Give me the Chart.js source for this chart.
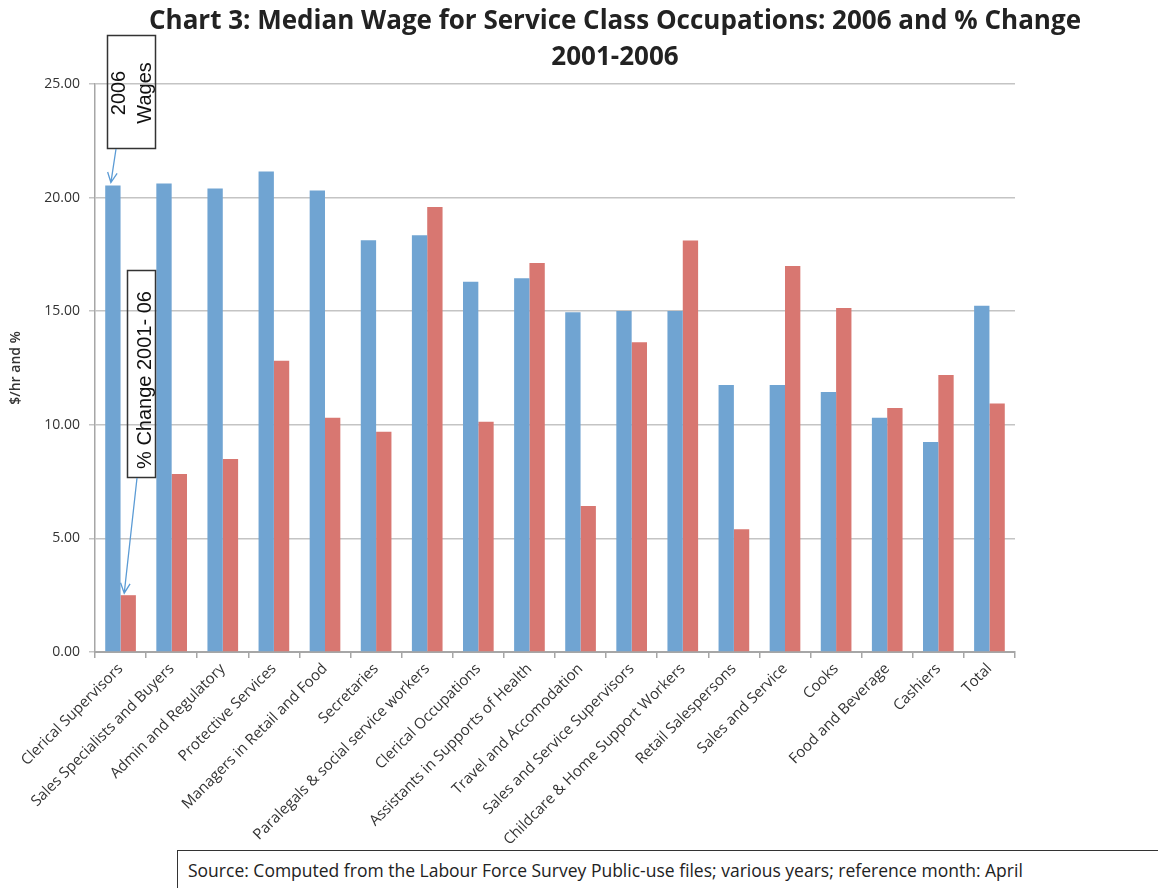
<!DOCTYPE html>
<html>
<head>
<meta charset="utf-8">
<script src="https://cdn.jsdelivr.net/npm/chart.js@4"></script>
<style>
  body { margin: 0; background: #fff; }
  #wrap { position: relative; width: 1158px; height: 888px; overflow: hidden; }
  #source {
    position: absolute; left: 177px; top: 850px; width: 1000px; height: 44px;
    border: 1.5px solid #333; background: #fff; box-sizing: border-box;
    font: 17.5px 'Open Sans', sans-serif; color: #222; padding: 7px 0 0 10px; white-space: nowrap;
  }
</style>
</head>
<body>
<div id="wrap">
  <canvas id="chart" width="1158" height="888"></canvas>
  <div id="source">Source: Computed from the Labour Force Survey Public-use files; various years; reference month: April</div>
</div>
<script>
const CATEGORIES = ['Clerical Supervisors', 'Sales Specialists and Buyers', 'Admin and Regulatory',
  'Protective Services', 'Managers in Retail and Food', 'Secretaries', 'Paralegals & social service workers',
  'Clerical Occupations', 'Assistants in Supports of Health', 'Travel and Accomodation',
  'Sales and Service Supervisors', 'Childcare & Home Support Workers', 'Retail Salespersons',
  'Sales and Service', 'Cooks', 'Food and Beverage', 'Cashiers', 'Total'];
const WAGES_2006 = [20.53, 20.62, 20.40, 21.15, 20.31, 18.12, 18.34, 16.30, 16.45, 14.95,
  15.01, 15.01, 11.75, 11.75, 11.44, 10.31, 9.24, 15.24];
const PCT_CHANGE = [2.50, 7.84, 8.49, 12.82, 10.31, 9.69, 19.59, 10.13, 17.12, 6.43,
  13.63, 18.11, 5.40, 16.99, 15.14, 10.74, 12.19, 10.94];
const Y_TICKS = [0, 5, 10, 15, 20, 25];

const BLUE = '#70a4d2';
const RED = '#d87771';
const CALLOUT_FONT = '20px "Liberation Sans", Arial, sans-serif';

const drawArrow = (ctx, x1, y1, x2, y2) => {
  const a = Math.atan2(y2 - y1, x2 - x1);
  ctx.beginPath();
  ctx.moveTo(x1, y1);
  ctx.lineTo(x2, y2);
  ctx.moveTo(x2 - 11 * Math.cos(a - 0.45), y2 - 11 * Math.sin(a - 0.45));
  ctx.lineTo(x2, y2);
  ctx.lineTo(x2 - 11 * Math.cos(a + 0.45), y2 - 11 * Math.sin(a + 0.45));
  ctx.stroke();
}

// box outline plus vertical text; (tx, ty) is the text centre
const calloutBox = (ctx, x, y, w, h, tx, ty, lines) => {
  ctx.strokeStyle = '#333';
  ctx.lineWidth = 1.5;
  ctx.strokeRect(x, y, w, h);
  ctx.save();
  ctx.translate(tx, ty);
  ctx.rotate(-Math.PI / 2);
  ctx.fillStyle = '#111';
  ctx.font = CALLOUT_FONT;
  ctx.textAlign = 'center';
  ctx.textBaseline = 'middle';
  lines.forEach((ln, i) => ctx.fillText(ln, 0, (i - (lines.length - 1) / 2) * 26));
  ctx.restore();
}

const extras = {
  id: 'extras',
  afterDraw(chart) {
    const ctx = chart.ctx;
    const ys = chart.scales.y;
    ctx.save();
    // title
    ctx.fillStyle = '#222';
    ctx.font = 'bold 26px "Open Sans", sans-serif';
    ctx.textAlign = 'center';
    ctx.textBaseline = 'middle';
    ctx.fillText('Chart 3: Median Wage for Service Class Occupations: 2006 and % Change', 615, 22);
    ctx.fillText('2001-2006', 615, 58);

    // callouts
    const blueBar = chart.getDatasetMeta(0).data[0];
    const redBar = chart.getDatasetMeta(1).data[0];
    calloutBox(ctx, 107.5, 35.5, 48, 113, 132, 93, ['2006', 'Wages']);
    ctx.strokeStyle = '#5b9bd5';
    ctx.lineWidth = 1.3;
    drawArrow(ctx, 116, 149, blueBar.x - 2, ys.getPixelForValue(WAGES_2006[0]) - 3);

    calloutBox(ctx, 127.5, 270.5, 28, 207, 145, 380, ['% Change 2001- 06']);
    ctx.strokeStyle = '#5b9bd5';
    ctx.lineWidth = 1.3;
    drawArrow(ctx, 137, 478, redBar.x - 4, ys.getPixelForValue(PCT_CHANGE[0]) - 2);
    ctx.restore();
  }
};

const config = {
  type: 'bar',
  data: {
    labels: CATEGORIES,
    datasets: [
      { label: '2006 Wages', data: WAGES_2006, backgroundColor: BLUE },
      { label: '% Change 2001-06', data: PCT_CHANGE, backgroundColor: RED }
    ]
  },
  options: {
    responsive: false,
    animation: false,
    layout: { padding: { left: 8, top: 84, right: 143, bottom: 0 } },
    datasets: { bar: { categoryPercentage: 0.6, barPercentage: 1.0 } },
    plugins: {
      legend: { display: false },
      tooltip: { enabled: false }
    },
    scales: {
      x: {
        afterFit: s => { s.height = 236; },
        grid: { display: true, drawOnChartArea: false, offset: true, tickLength: 6, color: '#a6a6a6', lineWidth: 1.5 },
        border: { color: '#a6a6a6', width: 2 },
        ticks: {
          autoSkip: false, minRotation: 45, maxRotation: 45,
          color: '#333', font: { family: '"Open Sans", sans-serif', size: 15 }, padding: 2
        }
      },
      y: {
        min: 0, max: 25,
        afterFit: s => { s.width = 87; },
        afterBuildTicks: s => { s.ticks = Y_TICKS.map(v => ({ value: v })); },
        grid: { color: '#c4c4c4', lineWidth: 1.5, tickLength: 6 },
        border: { color: '#a6a6a6', width: 1.5 },
        ticks: {
          color: '#333', font: { family: '"Open Sans", sans-serif', size: 14 }, padding: 9,
          callback: v => Number(v).toFixed(2)
        },
        title: {
          display: true, text: '$/hr and %', color: '#333',
          font: { family: '"Open Sans", sans-serif', size: 14, weight: '600' }, padding: 0
        }
      }
    }
  },
  plugins: [extras]
};

const chart = new Chart(document.getElementById('chart'), config);
</script>
</body>
</html>
